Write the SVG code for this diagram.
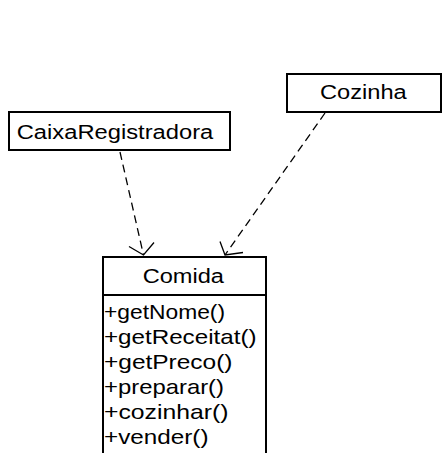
<svg xmlns="http://www.w3.org/2000/svg" width="442" height="453" viewBox="0 0 442 453">
  <style>
    .box { fill: #ffffff; stroke: #000000; stroke-width: 2; }
    .sep { stroke: #000000; stroke-width: 2; }
    .lbl { font-family: "Liberation Sans", Arial, sans-serif; font-size: 20px; fill: #000000; }
    .op { font-family: "Liberation Sans", Arial, sans-serif; font-size: 21px; fill: #000000; }
    .dep { fill: none; stroke: #000000; stroke-width: 1.3; stroke-dasharray: 8 5; }
    .head { fill: none; stroke: #000000; stroke-width: 1.3; }
  </style>
  <rect width="442" height="453" fill="#ffffff"/>

  <g id="connectors">
    <!-- CaixaRegistradora depends on Comida -->
    <line class="dep" x1="120" y1="152" x2="143.5" y2="255"/>
    <polyline class="head" points="129,246.5 143.5,255 154,242.5"/>
    <!-- Cozinha depends on Comida -->
    <line class="dep" x1="325" y1="113" x2="225" y2="255"/>
    <polyline class="head" points="220,241.5 225,255 243,252.5"/>
  </g>

  <g id="CaixaRegistradora">
    <rect class="box" x="9" y="112" width="221" height="38"/>
    <text class="lbl" x="16.7" y="139.3" textLength="196.6" lengthAdjust="spacingAndGlyphs">CaixaRegistradora</text>
  </g>

  <g id="Cozinha">
    <rect class="box" x="287" y="74" width="154" height="38"/>
    <text class="lbl" x="320" y="99.3" textLength="86.7" lengthAdjust="spacingAndGlyphs">Cozinha</text>
  </g>

  <g id="Comida">
    <rect class="box" x="103" y="257" width="163" height="210"/>
    <line class="sep" x1="103" y1="295" x2="266" y2="295"/>
    <text class="lbl" x="142.7" y="283.3" textLength="81.3" lengthAdjust="spacingAndGlyphs">Comida</text>
    <text class="op" x="104" y="319" textLength="121" lengthAdjust="spacingAndGlyphs">+getNome()</text>
    <text class="op" x="104" y="344" textLength="152.5" lengthAdjust="spacingAndGlyphs">+getReceitat()</text>
    <text class="op" x="104" y="369" textLength="128.5" lengthAdjust="spacingAndGlyphs">+getPreco()</text>
    <text class="op" x="104" y="394" textLength="120" lengthAdjust="spacingAndGlyphs">+preparar()</text>
    <text class="op" x="104" y="419" textLength="124.5" lengthAdjust="spacingAndGlyphs">+cozinhar()</text>
    <text class="op" x="104" y="444" textLength="104.5" lengthAdjust="spacingAndGlyphs">+vender()</text>
  </g>
</svg>
